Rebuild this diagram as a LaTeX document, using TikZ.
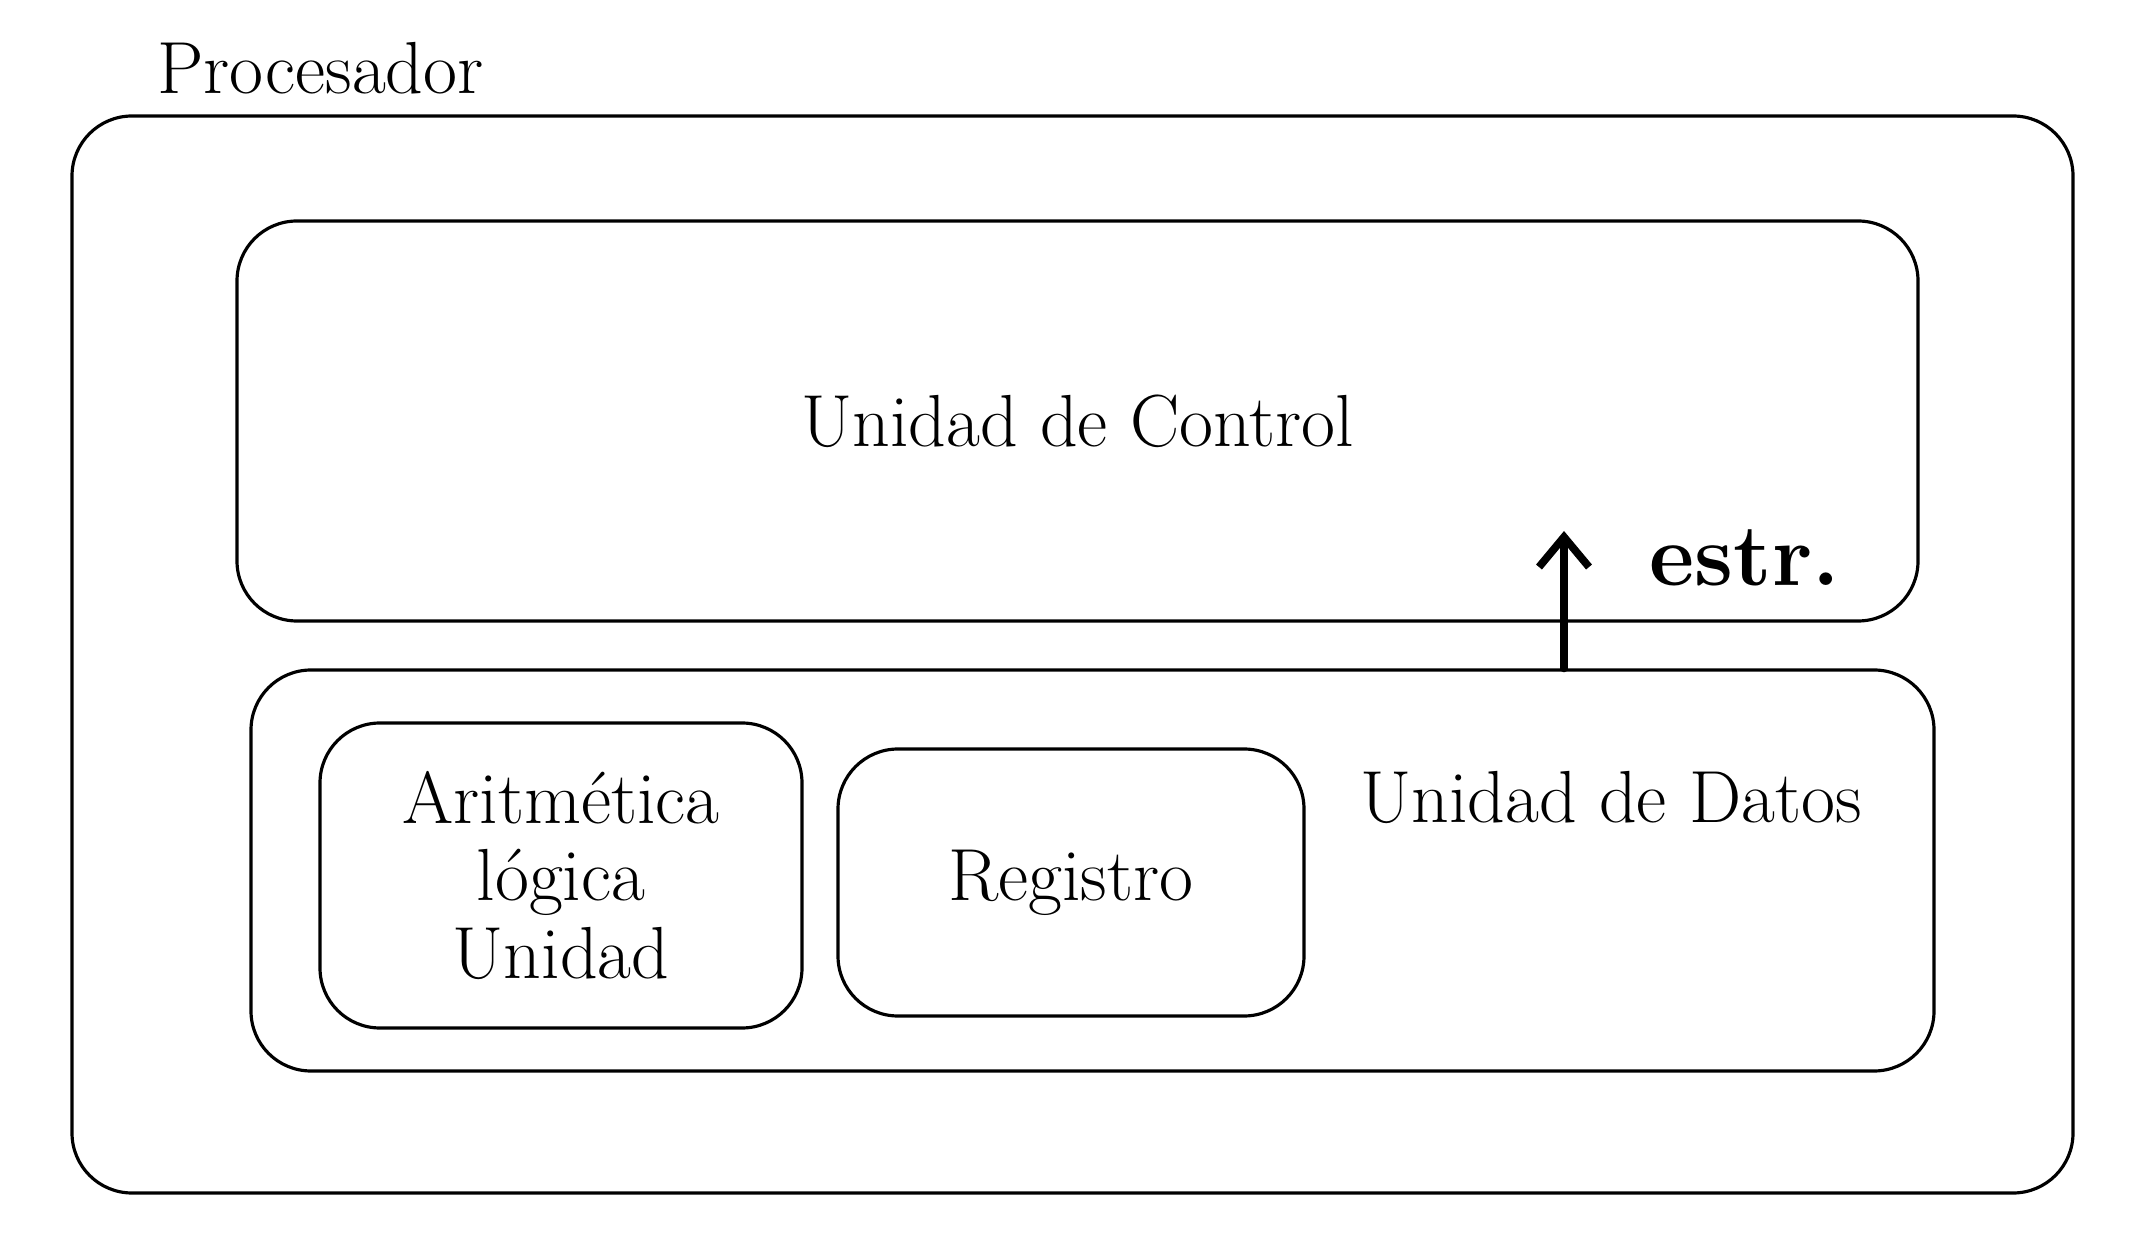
\documentclass[tikz,border=0pt]{standalone}
\usepackage{tikz}
\usetikzlibrary{arrows.meta, calc, positioning}

\tikzset{
  caja/.style={draw=black, line width=0.9pt, rounded corners=0.6cm, inner sep=0pt},
  rotulo/.style={font=\fontsize{21}{22}\selectfont, align=center}
}

\begin{document}
\begin{tikzpicture}[line cap=round,line join=round,x=1cm,y=1cm]
\useasboundingbox (0,0) rectangle (21.36,12.38);
% cajas
\node[caja, minimum width=20.01cm, minimum height=10.77cm] (procesador) at (10.725,5.835) {};
\node[rotulo, anchor=west] (procesadortxt) at (1.45,11.70) {Procesador};
\node[caja, rotulo, minimum width=16.81cm, minimum height=4.00cm] (control) at (10.775,8.17) {Unidad de Control};
\node[caja, minimum width=16.83cm, minimum height=4.01cm] (datos) at (10.925,3.675) {};
\node[rotulo] (datostxt) at (16.11,4.41) {Unidad de Datos};
\node[caja, rotulo, minimum width=4.82cm, minimum height=3.05cm] (alu) at (5.61,3.625) {Aritmética\\lógica\\Unidad};
\node[caja, rotulo, minimum width=4.66cm, minimum height=2.67cm] (registro) at (10.71,3.555) {Registro};
%\draw[help lines] (0,0) grid (21,12);
% flecha
\coordinate (punta) at (15.64,7.07);
\draw[-{Straight Barb[length=3mm,width=5mm]}, line width=2.2pt] (punta |- datos.north) -- (punta);
\node[rotulo, font=\fontsize{25}{26}\bfseries] (estr) at (17.45,6.80) {estr.};
\end{tikzpicture}
\end{document}
